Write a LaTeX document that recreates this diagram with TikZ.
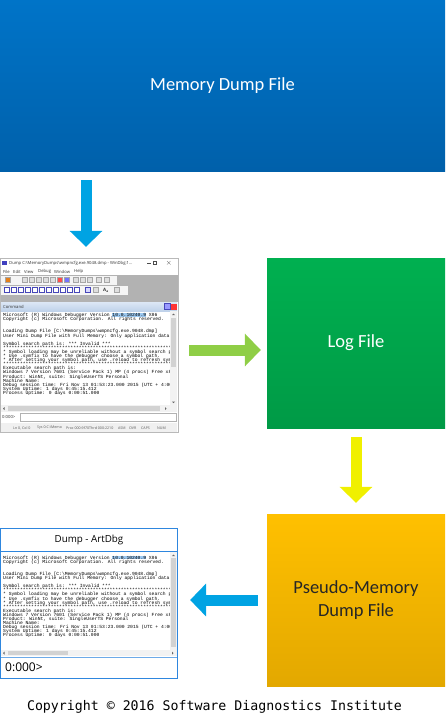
\documentclass[tikz,border=0pt]{standalone}
\usepackage{fontspec}
\usepackage{xcolor}
\usepackage{tikz}
\usetikzlibrary{positioning, arrows.meta, calc}
\newfontfamily\boxfont{Carlito}
\newfontfamily\winfont{Open Sans}
\newfontfamily\dbgmono{Liberation Mono}
\newfontfamily\copymono{DejaVu Sans Mono}
\definecolor{mdfTop}{HTML}{0074C8}
\definecolor{mdfBot}{HTML}{0060AA}
\definecolor{logTop}{HTML}{00B050}
\definecolor{logBot}{HTML}{009A46}
\definecolor{pseudoTop}{HTML}{FFC000}
\definecolor{pseudoBot}{HTML}{E3A800}
\definecolor{arrowBlue}{HTML}{00A3E3}
\definecolor{arrowGreen}{HTML}{8FCE46}
\definecolor{arrowYellow}{HTML}{F0F000}
\definecolor{artBlue}{HTML}{2E86DE}
\definecolor{hlBlue}{HTML}{9CC8F0}
\definecolor{cmdTop}{HTML}{DCE7F5}
\definecolor{cmdBot}{HTML}{BFD2EA}
\newcommand{\dbgfont}{\dbgmono\fontsize{4.67}{4.1}\selectfont\lineskiplimit=-10pt\relax}
\newcommand{\dbgstars}{************************************************************}
\newcommand{\dbglines}{%
  Microsoft (R) Windows Debugger Version {\setlength{\fboxsep}{0pt}\colorbox{hlBlue}{10.0.10240.9}} X86\\
  Copyright (c) Microsoft Corporation. All rights reserved.\\
  \mbox{}\\
  \mbox{}\\
  Loading Dump File [C:\textbackslash MemoryDumps\textbackslash wmpncfg.exe.9048.dmp]\\
  User Mini Dump File with Full Memory: Only application data is available\\
  \mbox{}\\
  Symbol search path is: *** Invalid ***\\
  \dbgstars\\
  {*} Symbol loading may be unreliable without a symbol search path.\\
  {*} Use .symfix to have the debugger choose a symbol path.\\
  {*} After setting your symbol path, use .reload to refresh symbol locations.\\
  \dbgstars\\
  Executable search path is:\\
  Windows 7 Version 7601 (Service Pack 1) MP (4 procs) Free x86 compatible\\
  Product: WinNt, suite: SingleUserTS Personal\\
  Machine Name:\\
  Debug session time: Fri Nov 13 01:53:23.000 2015 (UTC + 4:00)\\
  System Uptime: 1 days 0:45:15.412\\
  Process Uptime: 0 days 0:00:51.000}

\begin{document}
\begin{tikzpicture}[
    x=1pt, y=-1pt,
    filebox/.style={rectangle, inner sep=0pt, align=center,
                    font=\boxfont\fontsize{18.5}{22.5}\selectfont},
    bigarrow/.style={line width=11pt, -{Triangle[width=32pt, length=16pt]}},
    dbgtext/.style={anchor=north west, inner sep=0pt, align=left, font=\dbgfont},
    wintext/.style={anchor=west, inner sep=0pt, text=black!80,
                    font=\winfont\fontsize{4.2}{5}\selectfont},
    icon/.style={draw=gray!70, fill=gray!25, line width=0.3pt},
    winicon/.style={draw=blue!45!gray, fill=white, line width=0.3pt},
    bar/.style={fill=gray!10},
    thumb/.style={fill=gray!35},
  ]
  \useasboundingbox (0,0) rectangle (445,725);

  % file boxes
  \node[filebox, top color=mdfTop, bottom color=mdfBot, text=white,
        minimum width=445pt, minimum height=171pt] (mdf) at (222.5,85.5) {Memory Dump File};
  \node[filebox, top color=logTop, bottom color=logBot, text=white,
        minimum width=178pt, minimum height=170pt] (logf) at (356,343) {Log File};
  \node[filebox, top color=pseudoTop, bottom color=pseudoBot, text=black!85,
        minimum width=178pt, minimum height=172pt] (pseudo) at (356,600) {Pseudo-Memory\\Dump File};

  % WinDbg window
  \node[draw=gray!55, fill=white, line width=0.4pt, inner sep=0pt,
        minimum width=178pt, minimum height=174pt] (windbg) at (89,345) {};
  \node[wintext] (wdtitle) at (9,263) {Dump C:\textbackslash MemoryDumps\textbackslash wmpncfg.exe.9048.dmp - WinDbg:1...};
  \fill[blue!50!gray] (2,260.5) rectangle (6.5,265);
  \draw[black!70, line width=0.3pt] (147,263) -- (151,263);
  \draw[black!70, line width=0.3pt] (153,261) rectangle (156.5,264.5);
  \draw[black!70, line width=0.3pt] (167,261) -- (170.5,264.5) (167,264.5) -- (170.5,261);
  \foreach \x/\t in {3/File, 13/Edit, 24/View, 38/Debug, 54/Window, 74/Help}
    \node[wintext] at (\x,271.5) {\t};
  \fill[black!30] (0.5,275) rectangle (177.5,302);
  \fill[gray!8] (1,276) rectangle (117,284.5);
  \fill[gray!8] (1,286) rectangle (128,294.5);
  \foreach \x in {22,29,36,43,50,73,80,87,96,104}
    \draw[icon] (\x,277.5) rectangle ++(5,5);
  \draw[icon, fill=orange!60!brown] (5,277.5) rectangle ++(5,5);
  \draw[icon, fill=red!70] (57,277.5) rectangle ++(5,5);
  \draw[icon, fill=blue!55] (64,277.5) rectangle ++(5,5);
  \foreach \x in {4,11,18,25,32,39,46,53,60,67,74}
    \draw[winicon] (\x,287.5) rectangle ++(5,5);
  \draw[winicon, fill=blue!15] (85,287.5) rectangle ++(5,5);
  \draw[icon] (93,287.5) rectangle ++(5,5);
  \node[wintext, font=\winfont\bfseries\fontsize{4.5}{5}\selectfont] at (103,290) {A\textsubscript{a}};
  \draw[icon] (114,287.5) rectangle ++(5,5);
  \shade[top color=cmdTop, bottom color=cmdBot] (1,302) rectangle (177,311);
  \node[wintext] at (3,306.5) {Command};
  \draw[winicon, fill=blue!40] (164,303.5) rectangle ++(6,6);
  \fill[red!80] (171,303.5) rectangle ++(6,6);
  \begin{scope}
    \clip (1,311) rectangle (170,405);
    \node[dbgtext] (wdout) at (3,313) {\dbglines};
  \end{scope}
  \fill[bar] (170,311) rectangle (177,405);
  \fill[thumb] (171,318) rectangle (176,367);
  \fill[black!60] (172,315) -- (175,315) -- (173.5,313.5) -- cycle;
  \fill[black!60] (172,401.5) -- (175,401.5) -- (173.5,403) -- cycle;
  \fill[bar] (1,405) rectangle (177,412);
  \fill[thumb] (8,406) rectangle (160,411);
  \fill[black!60] (4.5,407) -- (4.5,410) -- (3,408.5) -- cycle;
  \fill[black!60] (165,407) -- (165,410) -- (166.5,408.5) -- cycle;
  \node[wintext] at (2,417.5) {0:000>};
  \draw[gray!60, line width=0.3pt] (20,413.5) rectangle (176,421.5);
  \fill[gray!12] (1,423) rectangle (177,432);
  \foreach \x/\t in {13/{Ln 0, Col 0}, 37/{Sys 0:C:\textbackslash Memo}, 66/{Proc 000:9f70},
                     89/{Thrd 000:2210}, 118/ASM, 129/OVR, 141/CAPS, 157/NUM}
    \node[wintext, text=black!65, font=\winfont\fontsize{3.6}{4}\selectfont] at (\x,428) {\t};

  % ArtDbg window
  \node[draw=artBlue, fill=white, line width=1.2pt, inner sep=0pt,
        minimum width=177pt, minimum height=150pt] (artdbg) at (89,603.5) {};
  \node[inner sep=0pt, font=\winfont\fontsize{9.8}{12}\selectfont] (adtitle) at (89,540) {Dump - ArtDbg};
  \draw[artBlue, line width=0.8pt] (0.6,551.5) -- (177.4,551.5);
  \begin{scope}
    \clip (1,552) rectangle (170,650);
    \node[dbgtext] (adout) at (3,555.5) {\dbglines};
  \end{scope}
  \fill[bar] (170,552) rectangle (177,650);
  \fill[thumb] (171,558) rectangle (176,647);
  \fill[black!60] (172,556) -- (175,556) -- (173.5,554.5) -- cycle;
  \fill[bar] (1,650) rectangle (177,656);
  \fill[thumb] (8,651) rectangle (68,655);
  \fill[black!60] (4.5,651.5) -- (4.5,654.5) -- (3,653) -- cycle;
  \fill[black!60] (172,651.5) -- (172,654.5) -- (173.5,653) -- cycle;
  \draw[artBlue!70, line width=0.6pt] (0.6,657.5) -- (177.4,657.5);
  \node[anchor=west, inner sep=0pt, font=\winfont\fontsize{12}{14}\selectfont] (adprompt) at (5,667) {0:000>};

  % block arrows
  \draw[bigarrow, arrowBlue, shorten <=9pt, shorten >=11pt]
    ([xshift=-3pt]mdf.south -| windbg.north) -- ([xshift=-3pt]windbg.north);
  \draw[bigarrow, arrowGreen, shorten <=11pt, shorten >=6pt]
    ([yshift=-5pt]windbg.east) -- ([yshift=-5pt]windbg.east -| logf.west);
  \draw[bigarrow, arrowYellow, shorten <=9pt, shorten >=11pt]
    (logf.south) -- (pseudo.north);
  \draw[bigarrow, arrowBlue, shorten <=9pt, shorten >=12pt]
    (pseudo.west) -- (pseudo.west -| artdbg.east);

  \node[inner sep=0pt, font=\copymono\fontsize{13.25}{15}\selectfont] (copy) at (214.5,707)
    {Copyright © 2016 Software Diagnostics Institute};
\end{tikzpicture}
\end{document}
